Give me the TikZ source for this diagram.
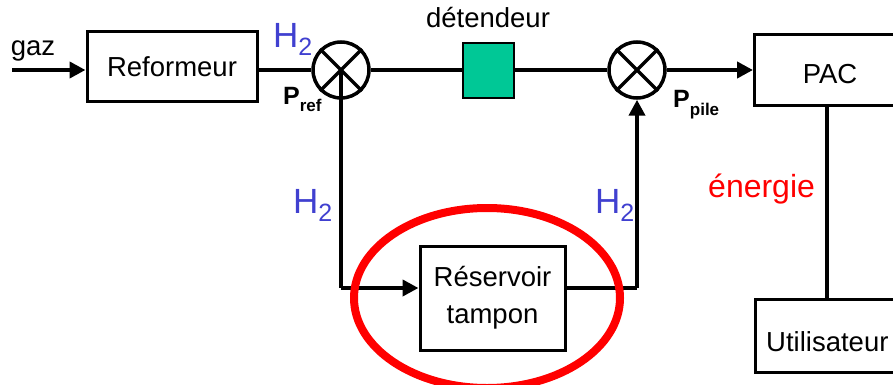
\documentclass[tikz,border=0pt]{standalone}
\usepackage{fontspec}
\setmainfont{Liberation Sans}
\usetikzlibrary{arrows.meta,shapes.geometric}
\definecolor{hblue}{RGB}{64,64,208}
\definecolor{detgreen}{RGB}{0,200,150}
\definecolor{ered}{RGB}{255,0,0}
\newcommand{\hsub}{H\raisebox{-8pt}{\fontsize{25}{25}\selectfont 2}}
\tikzset{
  blk/.style={draw,line width=3pt,fill=white,inner sep=0pt,font=\fontsize{27.5}{33}\selectfont},
  mixer/.style={draw,circle,line width=3.5pt,minimum size=56pt,inner sep=0pt},
  flow/.style={line width=4pt},
  arr/.style={flow,-{Triangle[length=16pt,width=16pt]}},
  hlab/.style={text=hblue,font=\fontsize{35}{38}\selectfont,inner sep=0pt,anchor=base west},
  plab/.style={font=\bfseries\fontsize{25}{28}\selectfont,inner sep=0pt,anchor=base west},
  txt/.style={font=\fontsize{27.5}{33}\selectfont,inner sep=0pt},
}
\begin{document}
\begin{tikzpicture}[x=1pt,y=-1pt]
\useasboundingbox (0,0) rectangle (893,385);
\clip (0,0) rectangle (893,385);
\fill[white] (0,0) rectangle (893,385);
% blocks
\node[blk,minimum width=170pt,minimum height=70pt] (ref) at (172,67) {Reformeur};
\node[draw,line width=1.5pt,fill=detgreen,minimum width=51pt,minimum height=55pt,inner sep=0pt] (det) at (488.5,70.5) {};
\node[blk,minimum width=160pt,minimum height=71pt,anchor=west] (pac) at (753,70.5) {};
\node[txt] (pact) at (830,74) {PAC};
\node[blk,minimum width=160pt,minimum height=73pt,anchor=west] (uti) at (754,335.5) {};
\node[txt,anchor=west] (utit) at (766,342) {Utilisateur};
\node[blk,minimum width=145pt,minimum height=104pt,align=center,font=\fontsize{27.5}{37}\selectfont] (res) at (492.5,298) {Réservoir\\tampon};
% mixers
\node[mixer] (m1) at (341,70) {};
\draw[line width=3.5pt] (m1.north west) -- (m1.south east) (m1.north east) -- (m1.south west);
\node[mixer] (m2) at (637,70) {};
\draw[line width=3.5pt] (m2.north west) -- (m2.south east) (m2.north east) -- (m2.south west);
% connectors
\coordinate (gin) at (12,70);
\coordinate (c1) at (341,288);
\coordinate (c2) at (637,288);
\draw[arr] (gin) -- (ref.west |- gin);
\draw[flow] (ref.east |- m1) -- (m1.west);
\draw[flow] (m1.east) -- (det.west |- m1);
\draw[flow] (det.east |- m2) -- (m2.west);
\draw[arr] (m2.east) -- (pac.west |- m2);
\draw[flow] (m1.center) -- (c1);
\draw[arr] (c1) -- (res.west |- c1);
\draw[flow] (res.east |- c2) -- (c2);
\draw[arr] (c2) -- (m2.south);
\draw[flow] (pac.south -| 827,0) -- (uti.north -| 827,0);
% labels
\node[txt,anchor=base] (lgaz) at (33,56) {gaz};
\node[txt,anchor=base] (ldet) at (488,28) {détendeur};
\node[hlab] (h1) at (273,48) {\hsub};
\node[hlab] (h2) at (293,213) {\hsub};
\node[hlab] (h3) at (595,213) {\hsub};
\node[plab] (pref) at (283,105) {P\raisebox{-7pt}{\fontsize{17}{17}\selectfont\bfseries ref}};
\node[plab] (ppile) at (673,108) {P\raisebox{-7pt}{\fontsize{17}{17}\selectfont\bfseries pile}};
\node[txt,anchor=base west,text=ered,font=\fontsize{32}{36}\selectfont] (ener) at (708,197) {énergie};
% highlight ellipse
\draw[ered,line width=8pt] (487,298) ellipse [x radius=133pt,y radius=90pt];
\end{tikzpicture}
\end{document}
